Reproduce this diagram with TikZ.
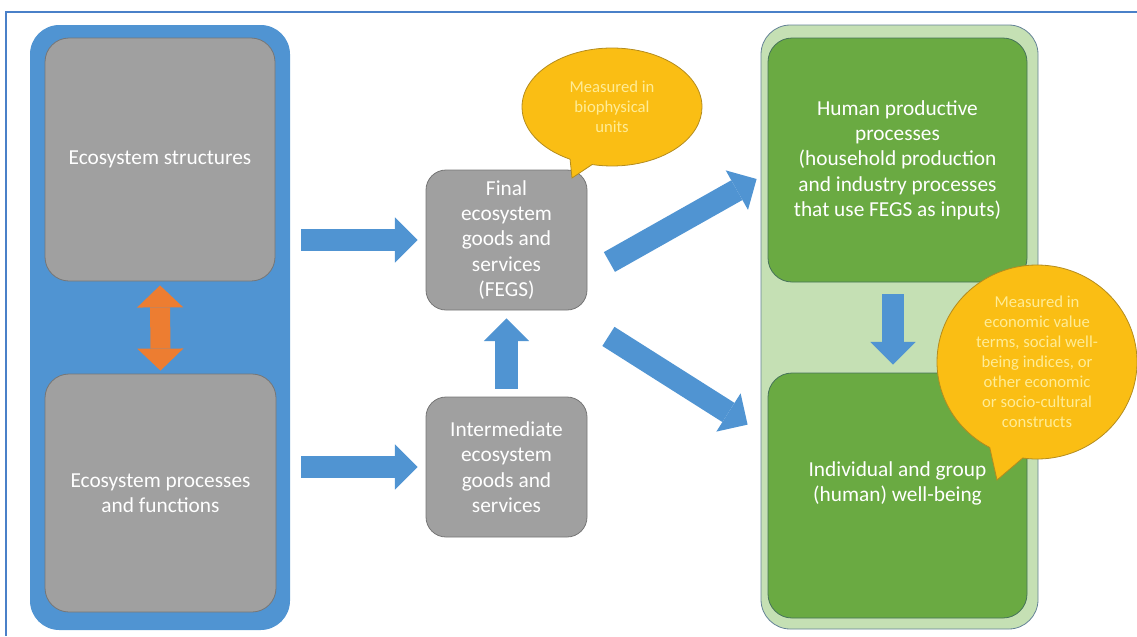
\documentclass[tikz,border=0pt]{standalone}
\usepackage{fontspec}
\setmainfont{Carlito}
\usetikzlibrary{positioning,arrows.meta,shapes.callouts}
\definecolor{panelblue}{RGB}{80,148,210}
\definecolor{frameblue}{RGB}{74,128,200}
\definecolor{boxgray}{RGB}{160,160,160}
\definecolor{edgegray}{RGB}{118,118,118}
\definecolor{arroworange}{RGB}{237,125,49}
\definecolor{calloutgold}{RGB}{250,190,20}
\definecolor{calloutedge}{RGB}{180,140,30}
\definecolor{notetext}{RGB}{255,236,150}
\definecolor{palegreen}{RGB}{197,224,180}
\definecolor{paleedge}{RGB}{100,130,150}
\definecolor{leafgreen}{RGB}{106,170,66}
\definecolor{leafedge}{RGB}{70,115,90}
\newcommand{\mainsize}{\fontsize{16}{19}\selectfont}
\newcommand{\notesize}{\fontsize{12.5}{15}\selectfont}

\tikzset{
  panel/.style={rounded corners=22pt,inner sep=0pt},
  box/.style={rounded corners=18pt,line width=0.6pt,text=white,font=\mainsize,
              align=center,inner sep=0pt},
  graybox/.style={box,fill=boxgray,draw=edgegray},
  greenbox/.style={box,fill=leafgreen,draw=leafedge},
  note/.style={ellipse callout,fill=calloutgold,draw=calloutedge,line width=0.6pt,
               text=notetext,font=\notesize,align=center,inner sep=0pt},
  blockarrow/.style={draw=panelblue,line width=17pt,
                     -{Triangle[length=17pt,width=34pt,line width=0pt]}}
}

\begin{document}
\begin{tikzpicture}[x=0.75pt,y=-0.75pt]
  \useasboundingbox (0,0) rectangle (1137,636);
  % frame, only top and left edges show
  \draw[frameblue,line width=1.5pt] (1137,12) -- (6,12) -- (6,636);

  % ecosystem side
  \node[panel,fill=panelblue,minimum width=195pt,minimum height=453.75pt]
    (ecopanel) at (160,327.5) {};
  \node[graybox,minimum width=172.5pt,minimum height=182.25pt]
    (struct) at (160,159.5) {Ecosystem structures};
  \node[graybox,minimum width=173.25pt,minimum height=178.5pt]
    (proc) at (160.5,493) {Ecosystem processes\\and functions};
  \node[graybox,rounded corners=15pt,minimum width=120.75pt,minimum height=105pt]
    (fegs) at (506.5,240) {Final\\ecosystem\\goods and\\services\\(FEGS)};
  \node[graybox,rounded corners=15pt,minimum width=120.75pt,minimum height=105pt]
    (inter) at (506.5,467) {Intermediate\\ecosystem\\goods and\\services};

  % human side
  \node[panel,fill=palegreen,draw=paleedge,line width=0.6pt,
        minimum width=207.75pt,minimum height=453pt]
    (humanpanel) at (899.5,327) {};
  \node[greenbox,minimum width=194.25pt,minimum height=183pt]
    (hpp) at (897.5,160) {Human productive\\processes\\(household production\\and industry processes\\that use FEGS as inputs)};
  \node[greenbox,minimum width=194.25pt,minimum height=183.75pt]
    (wb) at (897.5,495.5) {};
  \node[text=white,font=\mainsize,align=center]
    (wbtext) at ([yshift=9pt]wb.center) {Individual and group\\(human) well-being};

  % arrows
  \draw[draw=arroworange,line width=15pt,
        {Triangle[length=16.5pt,width=34.5pt,line width=0pt]}-{Triangle[length=16.5pt,width=34.5pt,line width=0pt]},
        shorten <=3pt,shorten >=2.25pt] (struct.south) -- (proc.north);
  \draw[blockarrow,shorten <=8.25pt,shorten >=6pt] (ecopanel.east |- fegs.west) -- (fegs.west);
  \draw[blockarrow,shorten <=8.25pt,shorten >=6pt] (ecopanel.east |- inter.west) -- (inter.west);
  \draw[blockarrow,shorten <=6pt,shorten >=6pt] (inter.north) -- (fegs.south);
  \draw[blockarrow] ([shift={(22,22)}]fegs.east) -- ([shift={(-11,19)}]hpp.west);
  \draw[blockarrow] ([shift={(21,26)}]fegs.south east) -- ([shift={(-20,52)}]wb.north west);
  \draw[blockarrow,line width=16pt,shorten <=9pt,shorten >=6pt]
    ([xshift=-3.4pt]hpp.south) -- ([xshift=-3.4pt]wb.north);

  % callouts
  \node[note,minimum width=135pt,minimum height=88.5pt,
        callout absolute pointer={(572,178)}]
    (bionote) at (612,107) {Measured in\\biophysical\\units};
  \node[note,minimum width=150pt,minimum height=145.5pt,callout pointer arc=20,
        callout absolute pointer={(997,480)}]
    (econote) at (1037,362) {Measured in\\economic value\\terms, social well-\\being indices, or\\other economic\\or socio-cultural\\constructs};
\end{tikzpicture}
\end{document}
